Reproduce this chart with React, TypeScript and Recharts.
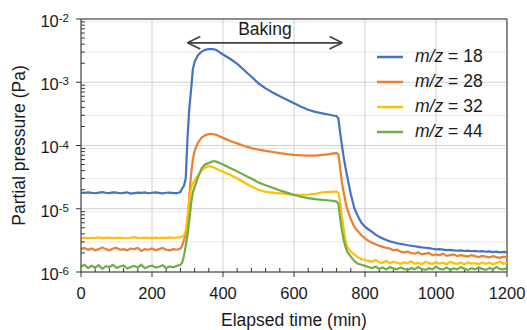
import { CartesianGrid, Legend, Line, LineChart, ReferenceLine, XAxis, YAxis } from "recharts";

// Partial pressures during a bake-out, four m/z channels on a log axis.
// Values below are in units of 1e-6 Pa.

const UNIT = 1e-6;

// Elapsed time (min): dense around the start/end of baking, 10 min steps elsewhere.
const TIME = [
  0, 10, 20, 30, 40, 50, 60, 70, 80, 90, 100, 110, 120, 130, 140, 150, 160, 170, 180, 190, 200, 210, 220, 230, 240,
  250, 260, 270, 280,
  285, 290, 295, 300, 305, 310, 315, 320, 330, 340, 350, 360, 370, 380, 390, 400,
  420, 440, 460, 480, 500, 520, 540, 560, 580, 600, 620, 640, 660, 680, 700,
  710, 720, 725, 730, 735, 740, 745, 750, 760, 770, 780, 790, 800,
  810, 820, 830, 840, 850, 860, 870, 880, 890, 900, 910, 920, 930, 940, 950, 960, 970, 980, 990, 1000,
  1010, 1020, 1030, 1040, 1050, 1060, 1070, 1080, 1090, 1100, 1110, 1120, 1130, 1140, 1150, 1160, 1170, 1180, 1190, 1200,
];

const MZ18 = [
  18.0, 17.8, 18.2, 17.9, 17.6, 18.0, 18.3, 17.9, 17.7, 18.1, 18.0, 17.6, 17.8, 18.2, 17.4, 17.7, 18.0, 17.8, 18.1,
  17.6, 17.9, 18.2, 17.8, 17.5, 17.9, 18.0, 17.7, 17.6, 18.4,
  21, 23, 30, 130, 380, 750, 1600, 2100, 2700, 3050, 3250, 3350, 3350, 3250, 3000, 2750,
  2350, 1950, 1550, 1220, 960, 800, 690, 600, 530, 465, 410, 368, 340, 322, 306,
  298, 290, 270, 160, 100, 65, 45, 32, 17, 10.2, 7.6, 6.0, 5.2,
  4.7, 4.3, 3.9, 3.6, 3.4, 3.2, 3.05, 2.95, 2.85, 2.78, 2.72, 2.65, 2.6, 2.55, 2.5, 2.45, 2.42, 2.38, 2.33, 2.28,
  2.3, 2.26, 2.22, 2.24, 2.2, 2.17, 2.2, 2.15, 2.18, 2.13, 2.16, 2.11, 2.14, 2.09, 2.12, 2.07, 2.1, 2.05, 2.08, 2.04,
];

const MZ28 = [
  2.3, 2.4, 2.25, 2.35, 2.2, 2.3, 2.45, 2.3, 2.2, 2.35, 2.4, 2.25, 2.3, 2.2, 2.35, 2.3, 2.4, 2.15, 2.3, 2.25, 2.35,
  2.2, 2.3, 2.4, 2.25, 2.2, 2.3, 2.25, 2.35,
  2.6, 3.2, 4.0, 5.5, 15, 35, 60, 82, 112, 133, 145, 152, 152, 148, 140, 132,
  118, 108, 98, 91, 86, 82, 79, 76, 73, 71, 70, 69, 69, 71, 73,
  75, 76, 72, 45, 26, 18, 13, 10, 6.8, 5.2, 4.4, 3.8, 3.4,
  3.1, 2.9, 2.75, 2.6, 2.5, 2.4, 2.35, 2.2, 2.25, 2.1, 2.05, 2.1, 2.0, 1.95, 2.05, 1.9, 1.95, 2.0, 1.85, 1.9,
  1.85, 1.95, 1.8, 1.85, 1.9, 1.78, 1.85, 1.8, 1.75, 1.85, 1.78, 1.72, 1.8, 1.75, 1.7, 1.78, 1.72, 1.68, 1.75, 1.7,
];

const MZ32 = [
  3.45, 3.5, 3.42, 3.48, 3.45, 3.52, 3.44, 3.47, 3.5, 3.43, 3.46, 3.5, 3.45, 3.42, 3.48, 3.55, 3.46, 3.44, 3.5, 3.47,
  3.43, 3.49, 3.45, 3.5, 3.46, 3.52, 3.48, 3.5, 3.55,
  3.6, 3.8, 4.5, 7.5, 14, 21, 25, 28, 34, 40, 45, 47, 46, 43.5, 40.5, 38.5,
  34.5, 30, 26, 22.5, 20, 18.5, 18, 17.5, 17, 16.7, 16.6, 16.8, 17.2, 18.2, 18.5,
  18.6, 18.7, 18, 13, 7.5, 4.8, 3.2, 2.5, 2.1, 1.9, 1.7, 1.6, 1.55,
  1.5, 1.45, 1.55, 1.42, 1.4, 1.5, 1.38, 1.45, 1.4, 1.35, 1.42, 1.38, 1.48, 1.35, 1.4, 1.32, 1.45, 1.38, 1.35, 1.42,
  1.36, 1.4, 1.33, 1.45, 1.38, 1.35, 1.4, 1.32, 1.42, 1.36, 1.38, 1.33, 1.42, 1.35, 1.4, 1.32, 1.38, 1.45, 1.35, 1.4,
];

const MZ44 = [
  1.22, 1.3, 1.15, 1.25, 1.18, 1.28, 1.12, 1.24, 1.2, 1.3, 1.16, 1.22, 1.27, 1.14, 1.2, 1.25, 1.18, 1.3, 1.15, 1.22,
  1.26, 1.17, 1.21, 1.28, 1.15, 1.23, 1.19, 1.25, 1.3,
  1.4, 1.8, 2.6, 3.8, 6.5, 12, 18, 22, 32, 44, 50, 53, 56, 56, 53, 50,
  44, 39, 34, 30, 26, 23.5, 21.5, 19.5, 18, 16.5, 15.5, 14.7, 14.2, 13.8, 13.5,
  13.3, 13, 12, 7, 4.5, 3.2, 2.5, 2.1, 1.75, 1.5, 1.35, 1.3, 1.25,
  1.2, 1.15, 1.22, 1.12, 1.18, 1.1, 1.2, 1.14, 1.1, 1.18, 1.12, 1.08, 1.16, 1.1, 1.2, 1.12, 1.08, 1.15, 1.1, 1.22,
  1.12, 1.1, 1.18, 1.08, 1.14, 1.1, 1.2, 1.12, 1.08, 1.15, 1.1, 1.18, 1.12, 1.08, 1.16, 1.1, 1.2, 1.12, 1.1, 1.15,
];

const SERIES = [
  { key: "m18", name: "m/z = 18", color: "#4472C4", values: MZ18 },
  { key: "m28", name: "m/z = 28", color: "#ED7D31", values: MZ28 },
  { key: "m32", name: "m/z = 32", color: "#FFC000", values: MZ32 },
  { key: "m44", name: "m/z = 44", color: "#70AD47", values: MZ44 },
];

const X_TICKS = [0, 200, 400, 600, 800, 1000, 1200];
const X_MINOR = [
  40, 80, 120, 160, 240, 280, 320, 360, 440, 480, 520, 560, 640, 680, 720, 760, 840, 880, 920, 960, 1040, 1080, 1120,
  1160,
];
const Y_TICKS = [1e-6, 1e-5, 1e-4, 1e-3, 1e-2];
const Y_MINOR = Y_TICKS.slice(0, -1).flatMap((d) => [2, 3, 4, 5, 6, 7, 8, 9].map((m) => m * d));

// Baking period arrow
const BAKING_START = 300;
const BAKING_END = 736;
const BAKING_LEVEL = 4.2e-3;
const ARROW_DX = 36;
const ARROW_UP = 5.3e-3;
const ARROW_DOWN = 3.35e-3;

const data = TIME.map((t, i) => {
  const row: Record<string, number> = { t };
  SERIES.forEach((s) => (row[s.key] = s.values[i] * UNIT));
  return row;
});

const INK = "#1a1a1a";
const FONT = "'Liberation Sans', Arial, sans-serif";

const PowerTick = ({ x, y, payload }: any) => (
  <text x={x} y={y} dy={7.8} textAnchor="end" fontSize={16.5} fill={INK}>
    10
    <tspan dy={-4.6} fontSize={11.5}>
      {Math.round(Math.log10(payload.value))}
    </tspan>
  </text>
);

const renderLegend = (props: any) => (
  <div>
    {(props.payload || []).map((item: any) => (
      <div key={item.value} style={{ display: "flex", alignItems: "center", height: 25 }}>
        <svg width={26} height={4}>
          <line x1={0} y1={2} x2={26} y2={2} stroke={item.color} strokeWidth={2.5} />
        </svg>
        <span style={{ marginLeft: 12, fontSize: 17.5, color: INK }}>
          <i>m/z</i> = {String(item.value).split(" = ")[1]}
        </span>
      </div>
    ))}
  </div>
);

export default function App() {
  return (
    <div style={{ position: "absolute", left: 0, top: 0, background: "#fff", fontFamily: FONT }}>
      <LineChart width={527} height={330} data={data} margin={{ top: 19, right: 20, bottom: 0, left: 0 }}>
        <CartesianGrid vertical={false} horizontalValues={Y_MINOR} stroke="#e8e8e8" />
        <CartesianGrid horizontalValues={Y_TICKS} verticalValues={X_TICKS} stroke="#d0d0d0" />
        <XAxis
          type="number"
          dataKey="t"
          domain={[0, 1200]}
          ticks={X_TICKS}
          height={58}
          tickSize={5}
          tickMargin={10}
          tick={{ fontSize: 16.5, fill: INK }}
          stroke="#333"
          label={{ value: "Elapsed time (min)", position: "insideBottom", offset: 4, fontSize: 17.5, fill: INK }}
        />
        <YAxis
          scale="log"
          type="number"
          domain={[1e-6, 1e-2]}
          allowDataOverflow
          ticks={Y_TICKS}
          width={81}
          tickSize={5}
          tickMargin={7}
          tick={<PowerTick />}
          stroke="#333"
          label={{
            value: "Partial pressure (Pa)",
            angle: -90,
            position: "insideLeft",
            offset: 19,
            fontSize: 17.5,
            fill: INK,
            style: { textAnchor: "middle" },
          }}
        />
        {Y_MINOR.map((v) => (
          <ReferenceLine key={`ym${v}`} segment={[{ x: 0, y: v }, { x: 11, y: v }]} stroke="#333" ifOverflow="visible" />
        ))}
        {X_MINOR.map((t) => (
          <ReferenceLine
            key={`xm${t}`}
            segment={[{ x: t, y: 1e-6 }, { x: t, y: 1.16e-6 }]}
            stroke="#333"
            ifOverflow="visible"
          />
        ))}
        <ReferenceLine y={1e-2} stroke="#6e6e6e" strokeWidth={1.5} />
        <ReferenceLine x={1200} stroke="#6e6e6e" strokeWidth={1.5} />
        {SERIES.map((s) => (
          <Line
            key={s.key}
            type="linear"
            dataKey={s.key}
            name={s.name}
            stroke={s.color}
            strokeWidth={2.2}
            dot={false}
            isAnimationActive={false}
          />
        ))}
        <ReferenceLine
          segment={[{ x: BAKING_START, y: BAKING_LEVEL }, { x: BAKING_END, y: BAKING_LEVEL }]}
          stroke="#404040"
          strokeWidth={1.6}
          ifOverflow="visible"
          label={{ value: "Baking", position: "top", offset: 8, fontSize: 17.5, fill: INK }}
        />
        <ReferenceLine
          segment={[{ x: BAKING_START, y: BAKING_LEVEL }, { x: BAKING_START + ARROW_DX, y: ARROW_UP }]}
          stroke="#404040"
          strokeWidth={1.6}
          ifOverflow="visible"
        />
        <ReferenceLine
          segment={[{ x: BAKING_START, y: BAKING_LEVEL }, { x: BAKING_START + ARROW_DX, y: ARROW_DOWN }]}
          stroke="#404040"
          strokeWidth={1.6}
          ifOverflow="visible"
        />
        <ReferenceLine
          segment={[{ x: BAKING_END, y: BAKING_LEVEL }, { x: BAKING_END - ARROW_DX, y: ARROW_UP }]}
          stroke="#404040"
          strokeWidth={1.6}
          ifOverflow="visible"
        />
        <ReferenceLine
          segment={[{ x: BAKING_END, y: BAKING_LEVEL }, { x: BAKING_END - ARROW_DX, y: ARROW_DOWN }]}
          stroke="#404040"
          strokeWidth={1.6}
          ifOverflow="visible"
        />
        <Legend
          layout="vertical"
          align="center"
          verticalAlign="middle"
          content={renderLegend}
          wrapperStyle={{ left: 377, top: 44, width: 130, bottom: "auto", right: "auto" }}
        />
      </LineChart>
    </div>
  );
}
